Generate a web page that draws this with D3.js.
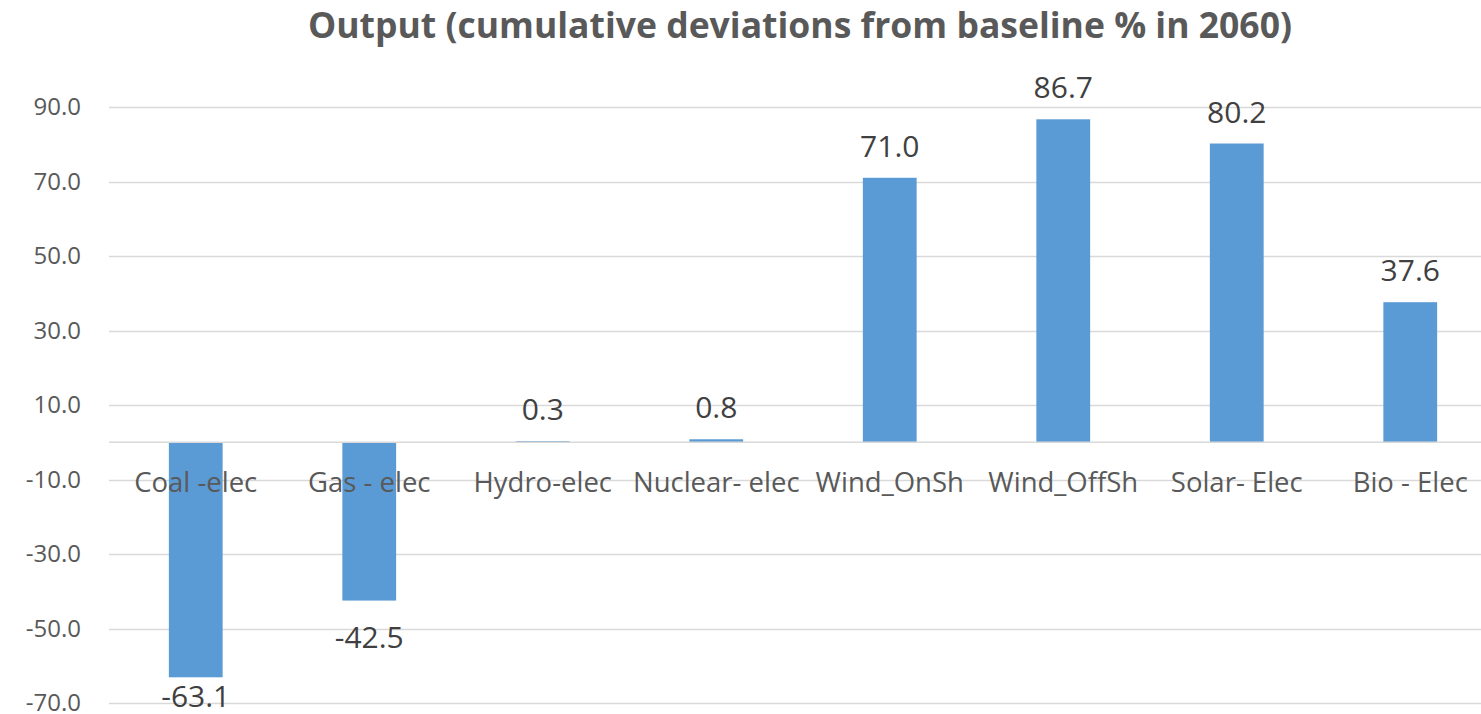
<!DOCTYPE html>
<html>
<head>
<meta charset="utf-8">
<script src="https://cdn.jsdelivr.net/npm/d3@7"></script>
<style>
  html, body { margin: 0; padding: 0; background: #fff; }
  svg { display: block; font-family: "Open Sans", "Noto Sans", sans-serif; }
</style>
</head>
<body>
<svg id="chart" width="1481" height="714"></svg>
<script>
// Output by generation technology, cumulative deviation from baseline (%) in 2060
const categories = ["Coal -elec", "Gas - elec", "Hydro-elec", "Nuclear- elec", "Wind_OnSh", "Wind_OffSh", "Solar- Elec", "Bio - Elec"];
const values = [-63.1, -42.5, 0.3, 0.8, 71.0, 86.7, 80.2, 37.6];
const tickValues = [-70, -50, -30, -10, 10, 30, 50, 70, 90];
const chartTitle = "Output (cumulative deviations from baseline % in 2060)";

const svg = d3.select("#chart");
const W = 1481, H = 714;
const plot = { left: 109, right: 1497, top: 107, bottom: 703 };

const x = d3.scaleBand().domain(categories).range([plot.left, plot.right]).paddingInner(0.69).paddingOuter(0.345);
const y = d3.scaleLinear().domain([-70, 90]).range([plot.bottom, plot.top]);

// One decimal, plain hyphen for negatives
const fmt = d => d3.format(".1f")(d).replace("\u2212", "-");

// Title
svg.append("text")
  .attr("x", 800).attr("y", 38)
  .attr("text-anchor", "middle")
  .attr("font-size", 35.5).attr("font-weight", "bold")
  .attr("fill", "#595959")
  .text(chartTitle);

// Gridlines
svg.append("g").selectAll("line").data(tickValues).join("line")
  .attr("x1", plot.left).attr("x2", W)
  .attr("y1", d => Math.round(y(d)) + 0.5).attr("y2", d => Math.round(y(d)) + 0.5)
  .attr("stroke", "#d9d9d9").attr("stroke-width", 1.5);

// Y axis labels
const yAxis = d3.axisLeft(y).tickValues(tickValues).tickFormat(fmt).tickSize(0).tickPadding(0);
const gy = svg.append("g").attr("transform", `translate(81,0)`).call(yAxis);
gy.select(".domain").remove();
gy.selectAll("text").attr("font-size", 24).attr("fill", "#595959").attr("font-family", "'Open Sans', sans-serif");

// Bars
svg.append("g").selectAll("rect").data(values).join("rect")
  .attr("x", (d, i) => x(categories[i]))
  .attr("width", x.bandwidth())
  .attr("y", d => y(Math.max(0, d)))
  .attr("height", d => Math.abs(y(d) - y(0)))
  .attr("fill", "#5b9bd5");

// Zero axis line
svg.append("line")
  .attr("x1", plot.left).attr("x2", W)
  .attr("y1", y(0)).attr("y2", y(0))
  .attr("stroke", "#d9d9d9").attr("stroke-width", 1.5);

// Category labels
const xAxis = d3.axisBottom(x).tickSize(0).tickPadding(0);
const gx = svg.append("g").attr("transform", `translate(0,${y(0) + 30})`).call(xAxis);
gx.select(".domain").remove();
gx.selectAll("text").attr("font-size", 27.5).attr("fill", "#595959").attr("font-family", "'Open Sans', sans-serif");

// Value labels (negative labels kept inside the chart's lower edge)
svg.append("g").selectAll("text").data(values).join("text")
  .attr("x", (d, i) => x(categories[i]) + x.bandwidth() / 2)
  .attr("y", d => d >= 0 ? y(d) - 21 : Math.min(y(d) + 47, H - 7))
  .attr("text-anchor", "middle")
  .attr("font-size", 30)
  .attr("fill", "#404040")
  .text(fmt);
</script>
</body>
</html>
